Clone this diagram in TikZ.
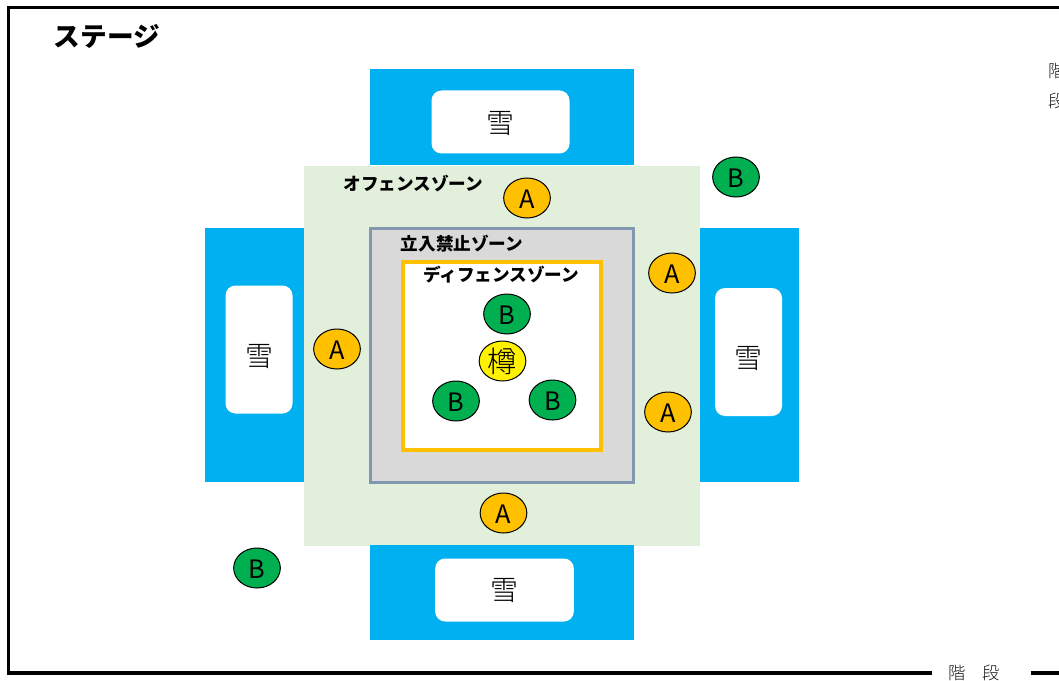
\documentclass[tikz,border=0pt]{standalone}
\usepackage{fontspec}
\usetikzlibrary{shapes.geometric}
\setmainfont{Noto Sans CJK JP}
\newfontfamily\thinf{Noto Sans CJK JP Light}
\newcommand{\lowtext}[2]{\raisebox{-#1}[0pt][0pt]{#2}}
\definecolor{snowblue}{HTML}{00B0F0}
\definecolor{offz}{HTML}{E2EFDA}
\definecolor{noz}{HTML}{D9D9D9}
\definecolor{nob}{HTML}{8497B0}
\definecolor{defb}{HTML}{FFC000}
\definecolor{greenb}{HTML}{00B050}
\tikzset{
 x=0.75pt,y=-0.75pt,
 snowcard/.style={fill=white,draw=none,rounded corners=7.5pt,inner sep=0,font=\thinf\fontsize{21}{21}\selectfont},
 teamA/.style={ellipse,draw=black,line width=0.75pt,fill=defb,minimum width=35pt,minimum height=30pt,inner sep=0,font=\fontsize{19}{19}\selectfont},
 teamB/.style={ellipse,draw=black,line width=0.75pt,fill=greenb,minimum width=35pt,minimum height=30pt,inner sep=0,font=\fontsize{19}{19}\selectfont},
 barrel/.style={ellipse,draw=black,line width=0.75pt,fill=yellow,minimum width=35pt,minimum height=30pt,inner sep=0,font=\thinf\fontsize{22}{22}\selectfont},
 zonelabel/.style={inner sep=0,font=\bfseries\fontsize{13.2}{13}\selectfont},
 frameline/.style={draw=black,line width=2.4pt},
 stairs/.style={inner sep=0,text=black!90,font=\thinf\fontsize{13}{13}\selectfont},
}
\begin{document}
\begin{tikzpicture}
\useasboundingbox (0,0) rectangle (1059,681);
\fill[white] (0,0) rectangle (1059,681);
% outer frame
\coordinate (ftr) at (1059,7.5);
\coordinate (ftl) at (8.5,7.5);
\coordinate (fbl) at (8.5,673);
\coordinate (fbm) at (932,673);
\coordinate (fbn) at (1031,673);
\coordinate (fbr) at (1059,673);
\draw[frameline] (ftr) -- (ftl) -- (fbl) -- (fbm);
\draw[frameline] (fbn) -- (fbr);
\node[inner sep=0,font=\bfseries\fontsize{20}{20}\selectfont] (title) at (107,36) {ステージ};
% snow areas
\fill[snowblue] (370,69) rectangle (634,165);
\fill[snowblue] (205,228) rectangle (304,482);
\fill[snowblue] (700,228) rectangle (799,482);
% zones
\fill[offz] (304,166) rectangle (700,546);
\fill[snowblue] (370,545) rectangle (634,640);
\draw[draw=nob,line width=2.25pt,fill=noz] (370,228.5) rectangle (633.5,482);
\draw[draw=defb,line width=3pt,fill=white] (403,261.5) rectangle (601,450);
\node[zonelabel] (off) at (413.5,184) {オフェンスゾーン};
\node[zonelabel] (nog) at (462,244) {立入禁止ゾーン};
\node[zonelabel] (def) at (501,275) {ディフェンスゾーン};
% snow cards
\node[snowcard,minimum width=103.5pt,minimum height=47.25pt] (s1) at (500.5,122) {\lowtext{8.5pt}{雪}};
\node[snowcard,minimum width=104pt,minimum height=47.25pt] (s2) at (504.5,590) {\lowtext{8pt}{雪}};
\node[snowcard,minimum width=50.25pt,minimum height=96pt] (s3) at (259,349.5) {\lowtext{12.5pt}{雪}};
\node[snowcard,minimum width=50.25pt,minimum height=96pt] (s4) at (748.5,352) {\lowtext{12.5pt}{雪}};
% players
\node[teamA] (a1) at (527,198) {\lowtext{8pt}{A}};
\node[teamA] (a2) at (672,273) {\lowtext{8pt}{A}};
\node[teamA] (a3) at (337,349) {\lowtext{8pt}{A}};
\node[teamA] (a4) at (668,412) {\lowtext{8pt}{A}};
\node[teamA] (a5) at (503.5,513) {\lowtext{8pt}{A}};
\node[teamB] (b1) at (736,177) {\lowtext{8pt}{B}};
\node[teamB] (b2) at (257,568) {\lowtext{8pt}{B}};
\node[teamB] (b3) at (507,314) {\lowtext{8pt}{B}};
\node[teamB] (b4) at (456,401) {\lowtext{8pt}{B}};
\node[teamB] (b5) at (552.5,400) {\lowtext{8pt}{B}};
\node[barrel] (t) at (502.5,361) {\lowtext{8.5pt}{樽}};
% stairs labels
\node[stairs] (st1) at (957,673) {階};
\node[stairs] (st2) at (991,673) {段};
\begin{scope}
\clip (1040,50) rectangle (1059,120);
\node[stairs] (st3) at (1057.5,71) {階};
\node[stairs] (st4) at (1057.5,101) {段};
\end{scope}
\end{tikzpicture}
\end{document}
